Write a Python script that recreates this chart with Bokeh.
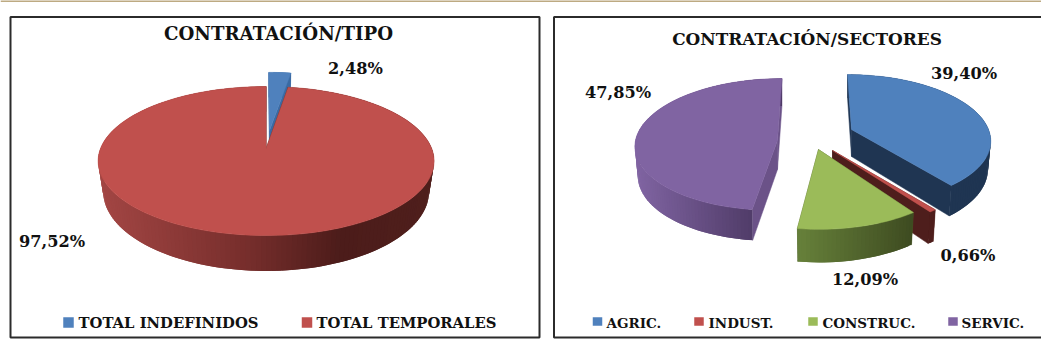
import numpy as np
from bokeh.plotting import figure
from bokeh.models import Range1d, ColumnDataSource
from bokeh.core.properties import value
from bokeh.embed import file_html
from bokeh.resources import INLINE

# ---- data ----
title_tipo = "CONTRATACIÓN/TIPO"
cats_tipo = ["TOTAL INDEFINIDOS", "TOTAL TEMPORALES"]
vals_tipo = [2.48, 97.52]
title_sect = "CONTRATACIÓN/SECTORES"
cats_sect = ["AGRIC.", "INDUST.", "CONSTRUC.", "SERVIC."]
vals_sect = [39.40, 0.66, 12.09, 47.85]

BLUE, RED, GREEN, PURPLE = "#4F81BD", "#C0504D", "#9BBB59", "#8064A2"
FONT = value("DejaVu Serif")

p = figure(width=1041, height=356, x_range=Range1d(0, 1041), y_range=Range1d(356, 0),
           output_backend="svg", toolbar_location=None, min_border=0)
p.axis.visible = False
p.grid.visible = False
p.outline_line_color = None
p.background_fill_color = "#FFFFFF"
p.border_fill_color = "#FFFFFF"


def hexrgb(c):
    c = c.lstrip("#")
    return np.array([int(c[i:i + 2], 16) for i in (0, 2, 4)], float)


def shade(t, stops, cols):
    arr = np.array([hexrgb(c) for c in cols])
    r = [np.interp(t, stops, arr[:, i]) for i in range(3)]
    return "#%02x%02x%02x" % tuple(int(round(v)) for v in r)


def slice_3d(v0, v1, ax, ay, rx, ry, k, c, d, s, top, wall, grad_stops, grad_cols, xspan):
    """Perspective-projected 3D pie slice between cumulative percentages v0 and v1."""
    a0, a1 = np.radians(v0 * 3.6), np.radians(v1 * 3.6)
    n = max(3, int((a1 - a0) / np.radians(1.5)))
    th = np.linspace(a0, a1, n + 1)

    def proj(t, z):
        u, w_ = np.sin(t), np.cos(t)
        w = 1 / (1 + k * w_)
        x = ax + (rx * u * w * (1 - s * z)) + c * (w - 1)
        y = ay - ry * w_ * w + d * z * w
        return x, y

    def proj_apex(z):
        return ax, ay + d * z

    # radial walls
    for t in (a0, a1):
        x0, y0 = proj(t, 0)
        x1, y1 = proj(t, 1)
        axx, ayy = proj_apex(0)
        bxx, byy = proj_apex(1)
        p.patch([axx, x0, x1, bxx], [ayy, y0, y1, byy], fill_color=wall, line_color=wall, line_width=0.5)
    # outer wall, in shaded overlapping strips
    xs, ys, cols = [], [], []
    for i in range(len(th) - 1):
        t0, t1 = th[i], th[min(i + 2, len(th) - 1)]
        x00, y00 = proj(t0, 0)
        x10, y10 = proj(t1, 0)
        x11, y11 = proj(t1, 1)
        x01, y01 = proj(t0, 1)
        xs.append([x00, x10, x11, x01])
        ys.append([y00, y10, y11, y01])
        cols.append(shade((0.5 * (x00 + x10) - xspan[0]) / (xspan[1] - xspan[0]), grad_stops, grad_cols))
    src = ColumnDataSource(dict(xs=xs, ys=ys, c=cols))
    p.patches("xs", "ys", source=src, fill_color="c", line_color=None)
    # top face
    tx, ty = proj(th, 0)
    p.patch(np.r_[ax, tx], np.r_[ay, ty], fill_color=top, line_color=top, line_width=0.5)


# ---- left pie (blue behind, then red) ----
cum = np.cumsum([0] + vals_tipo)
slice_3d(cum[0], cum[1], 269, 130, 166, 68, 0.17, 5, 29, 0.03, BLUE, "#3A6AA3",
         [0, 1], ["#3A6AA3", "#3A6AA3"], (0, 1))
slice_3d(cum[1], cum[2], 265.6, 148, 165.6, 72.4, 0.168, 0, 29.5, 0.03, RED, "#4E1E1C",
         [0, 0.45, 0.72, 1], ["#A34644", "#752D2B", "#4C1C1A", "#4F1F1C"], (97, 433))

# ---- right pie ----
cum2 = np.cumsum([0] + vals_sect)
slice_3d(cum2[3], cum2[4], 777, 140, 142, 65.6, 0.059, -80, 29, 0.02, PURPLE, "#6B5288",
         [0, 1], ["#8064A2", "#4E3A66"], (635, 755))
slice_3d(cum2[0], cum2[1], 851, 129, 137, 63, 0.147, 31, 27, 0.02, BLUE, "#1F3552",
         [0, 1], ["#1F3552", "#1F3552"], (0, 1))
slice_3d(cum2[1], cum2[2], 832, 150, 150, 68, 0.125, 0, 28.5, 0.02, RED, "#4E1E1C",
         [0, 1], ["#4E1E1C", "#4E1E1C"], (0, 1))
slice_3d(cum2[2], cum2[3], 818, 149, 144.5, 69.8, 0.125, 7.8, 29, 0.02, GREEN, "#4A5A28",
         [0, 1], ["#66803A", "#3D4A20"], (797, 913))

# ---- rule and frames ----
p.line([0, 1041], [0.5, 0.5], line_color="#BDAA82", line_width=2)
p.quad(left=[10, 553.5], right=[539, 1045], top=[16.5, 16.5], bottom=[337, 337],
       fill_color=None, line_color="#2B2B2B", line_width=2)


def txt(x, y, s, size, align="center"):
    p.text([x], [y], text=[s], text_font=FONT, text_font_style="bold", text_font_size=size,
           text_align=align, text_baseline="middle", text_color="#111111")


# ---- titles ----
txt(278, 33, title_tipo, "18.2px")
txt(806.5, 38, title_sect, "16.9px")


def pct(v):
    return f"{v:.2f}%".replace(".", ",")


# ---- data labels ----
for (x, y), v in zip([(355, 68), (51.5, 241)], vals_tipo):
    txt(x, y, pct(v), "16.2px")
for (x, y), v in zip([(963.5, 73), (967.5, 255), (864.5, 279), (617.5, 92)], vals_sect):
    txt(x, y, pct(v), "16.2px")

# ---- legends ----
for (sx, tx), name, col, in zip([(68, 78), (306.5, 316)], cats_tipo, [BLUE, RED]):
    p.rect([sx], [322], width=10.5, height=10.5, fill_color=col, line_color=None)
    txt(tx, 322, name, "14.8px", "left")
for (sx, tx), name, col in zip([(597, 606), (698.5, 708), (812.5, 822), (952.5, 961)], cats_sect,
                               [BLUE, RED, GREEN, PURPLE]):
    p.rect([sx], [321], width=9.5, height=8.5, fill_color=col, line_color=None)
    txt(tx, 322, name, "13.5px", "left")

open("out.html", "w").write(file_html(p, INLINE))
